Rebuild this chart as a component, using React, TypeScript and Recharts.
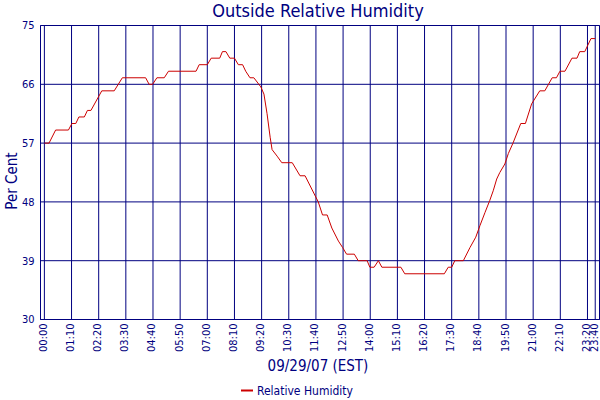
import { LineChart, Line, XAxis, YAxis, CartesianGrid, ReferenceLine } from 'recharts'

// minutes after midnight, 09/29/07
const times = [
  0, 12, 29, 62, 71, 81, 89, 103, 111, 120,
  148, 180, 201, 261, 270, 279, 290, 309, 320, 391,
  399, 420, 430, 452, 459, 468, 478, 490, 500, 511,
  519, 530, 540, 558, 566, 574, 582, 587, 600, 612,
  639, 659, 672, 706, 717, 729, 741, 758, 769, 779,
  799, 809, 832, 839, 850, 861, 870, 919, 929, 1031,
  1041, 1050, 1058, 1080, 1097, 1112, 1123, 1136, 1148, 1157,
  1166, 1174, 1187, 1196, 1208, 1228, 1240, 1256, 1277, 1290,
  1309, 1320, 1329, 1342, 1360, 1373, 1380, 1393, 1409, 1420,
]
const humidity = [
  57, 57, 59, 59, 60, 60, 61, 61, 62, 62,
  65, 65, 67, 67, 66, 66, 67, 67, 68, 68,
  69, 69, 70, 70, 71, 71, 70, 70, 69, 69,
  68, 67, 67, 65.6, 64.5, 61.5, 57.9, 56, 55, 54,
  54, 52, 52, 48, 46, 46, 44, 42, 41, 40,
  40, 39, 39, 38, 38, 39, 38, 38, 37, 37,
  38, 38, 39, 39, 41, 42.6, 44.4, 46.4, 48.2, 49.7,
  51.5, 52.5, 53.8, 55.4, 57, 60, 60, 63, 65, 65,
  67, 67, 68, 68, 70, 70, 71, 71, 73, 73,
]
const xTicks = [0, 70, 140, 210, 280, 350, 420, 490, 560, 630, 700, 770, 840, 910, 980, 1050, 1120, 1190, 1260, 1330, 1400, 1420]
const yTicks = [30, 39, 48, 57, 66, 75]

const NAVY = '#000080'
const RED = '#cc0000'
const FONT = "'DejaVu Sans Condensed', 'Liberation Sans', sans-serif"

const data = times.map((t, i) => ({ t, v: humidity[i] }))

function fmtTime(m: number): string {
  const h = Math.floor(m / 60)
  const mm = m % 60
  return `${String(h).padStart(2, '0')}:${String(mm).padStart(2, '0')}`
}

// eslint-disable-next-line @typescript-eslint/no-explicit-any
function XTick({ x, y, payload }: any) {
  const tx = x - 1
  return (
    <text
      x={tx}
      y={y}
      transform={`rotate(-90 ${tx} ${y})`}
      textAnchor="end"
      dominantBaseline="central"
      fill={NAVY}
      fontSize={11}
      fontFamily={FONT}
    >
      {fmtTime(payload.value)}
    </text>
  )
}

export default function App() {
  return (
    <div style={{ position: 'absolute', left: 0, top: 0, width: 600, height: 400, background: '#fff' }}>
      <LineChart width={600} height={400} data={data} margin={{ top: 25.5, right: 0.5, bottom: 0, left: 0 }}>
        <CartesianGrid stroke={NAVY} fill="none" />
        <XAxis
          dataKey="t"
          type="number"
          domain={[-10, 1431]}
          ticks={xTicks}
          interval={0}
          height={80.5}
          tickSize={0}
          tickMargin={4}
          tickLine={false}
          axisLine={{ stroke: NAVY }}
          tick={<XTick />}
        />
        <YAxis
          type="number"
          domain={[30, 75]}
          ticks={yTicks}
          interval={0}
          width={40.5}
          tickSize={4}
          tickMargin={2}
          tickLine={false}
          axisLine={{ stroke: NAVY }}
          tick={{ fill: NAVY, fontSize: 11, fontFamily: FONT }}
        />
        <ReferenceLine x={1431} stroke={NAVY} />
        <Line type="linear" dataKey="v" stroke={RED} strokeWidth={1} dot={false} isAnimationActive={false} />
      </LineChart>
      <svg width={600} height={400} style={{ position: 'absolute', left: 0, top: 0, pointerEvents: 'none' }}>
        <text x={318} y={17} textAnchor="middle" fill={NAVY} fontSize={18} fontFamily={FONT}>
          Outside Relative Humidity
        </text>
        <text x={318} y={371} textAnchor="middle" fill={NAVY} fontSize={15} fontFamily={FONT}>
          09/29/07 (EST)
        </text>
        <text x={17} y={181} transform="rotate(-90 17 181)" textAnchor="middle" fill={NAVY} fontSize={15} fontFamily={FONT}>
          Per Cent
        </text>
        <line x1={241} y1={390.5} x2={253} y2={390.5} stroke={RED} strokeWidth={2} />
        <text x={257} y={395} fill={NAVY} fontSize={12} fontFamily={FONT}>
          Relative Humidity
        </text>
      </svg>
    </div>
  )
}
